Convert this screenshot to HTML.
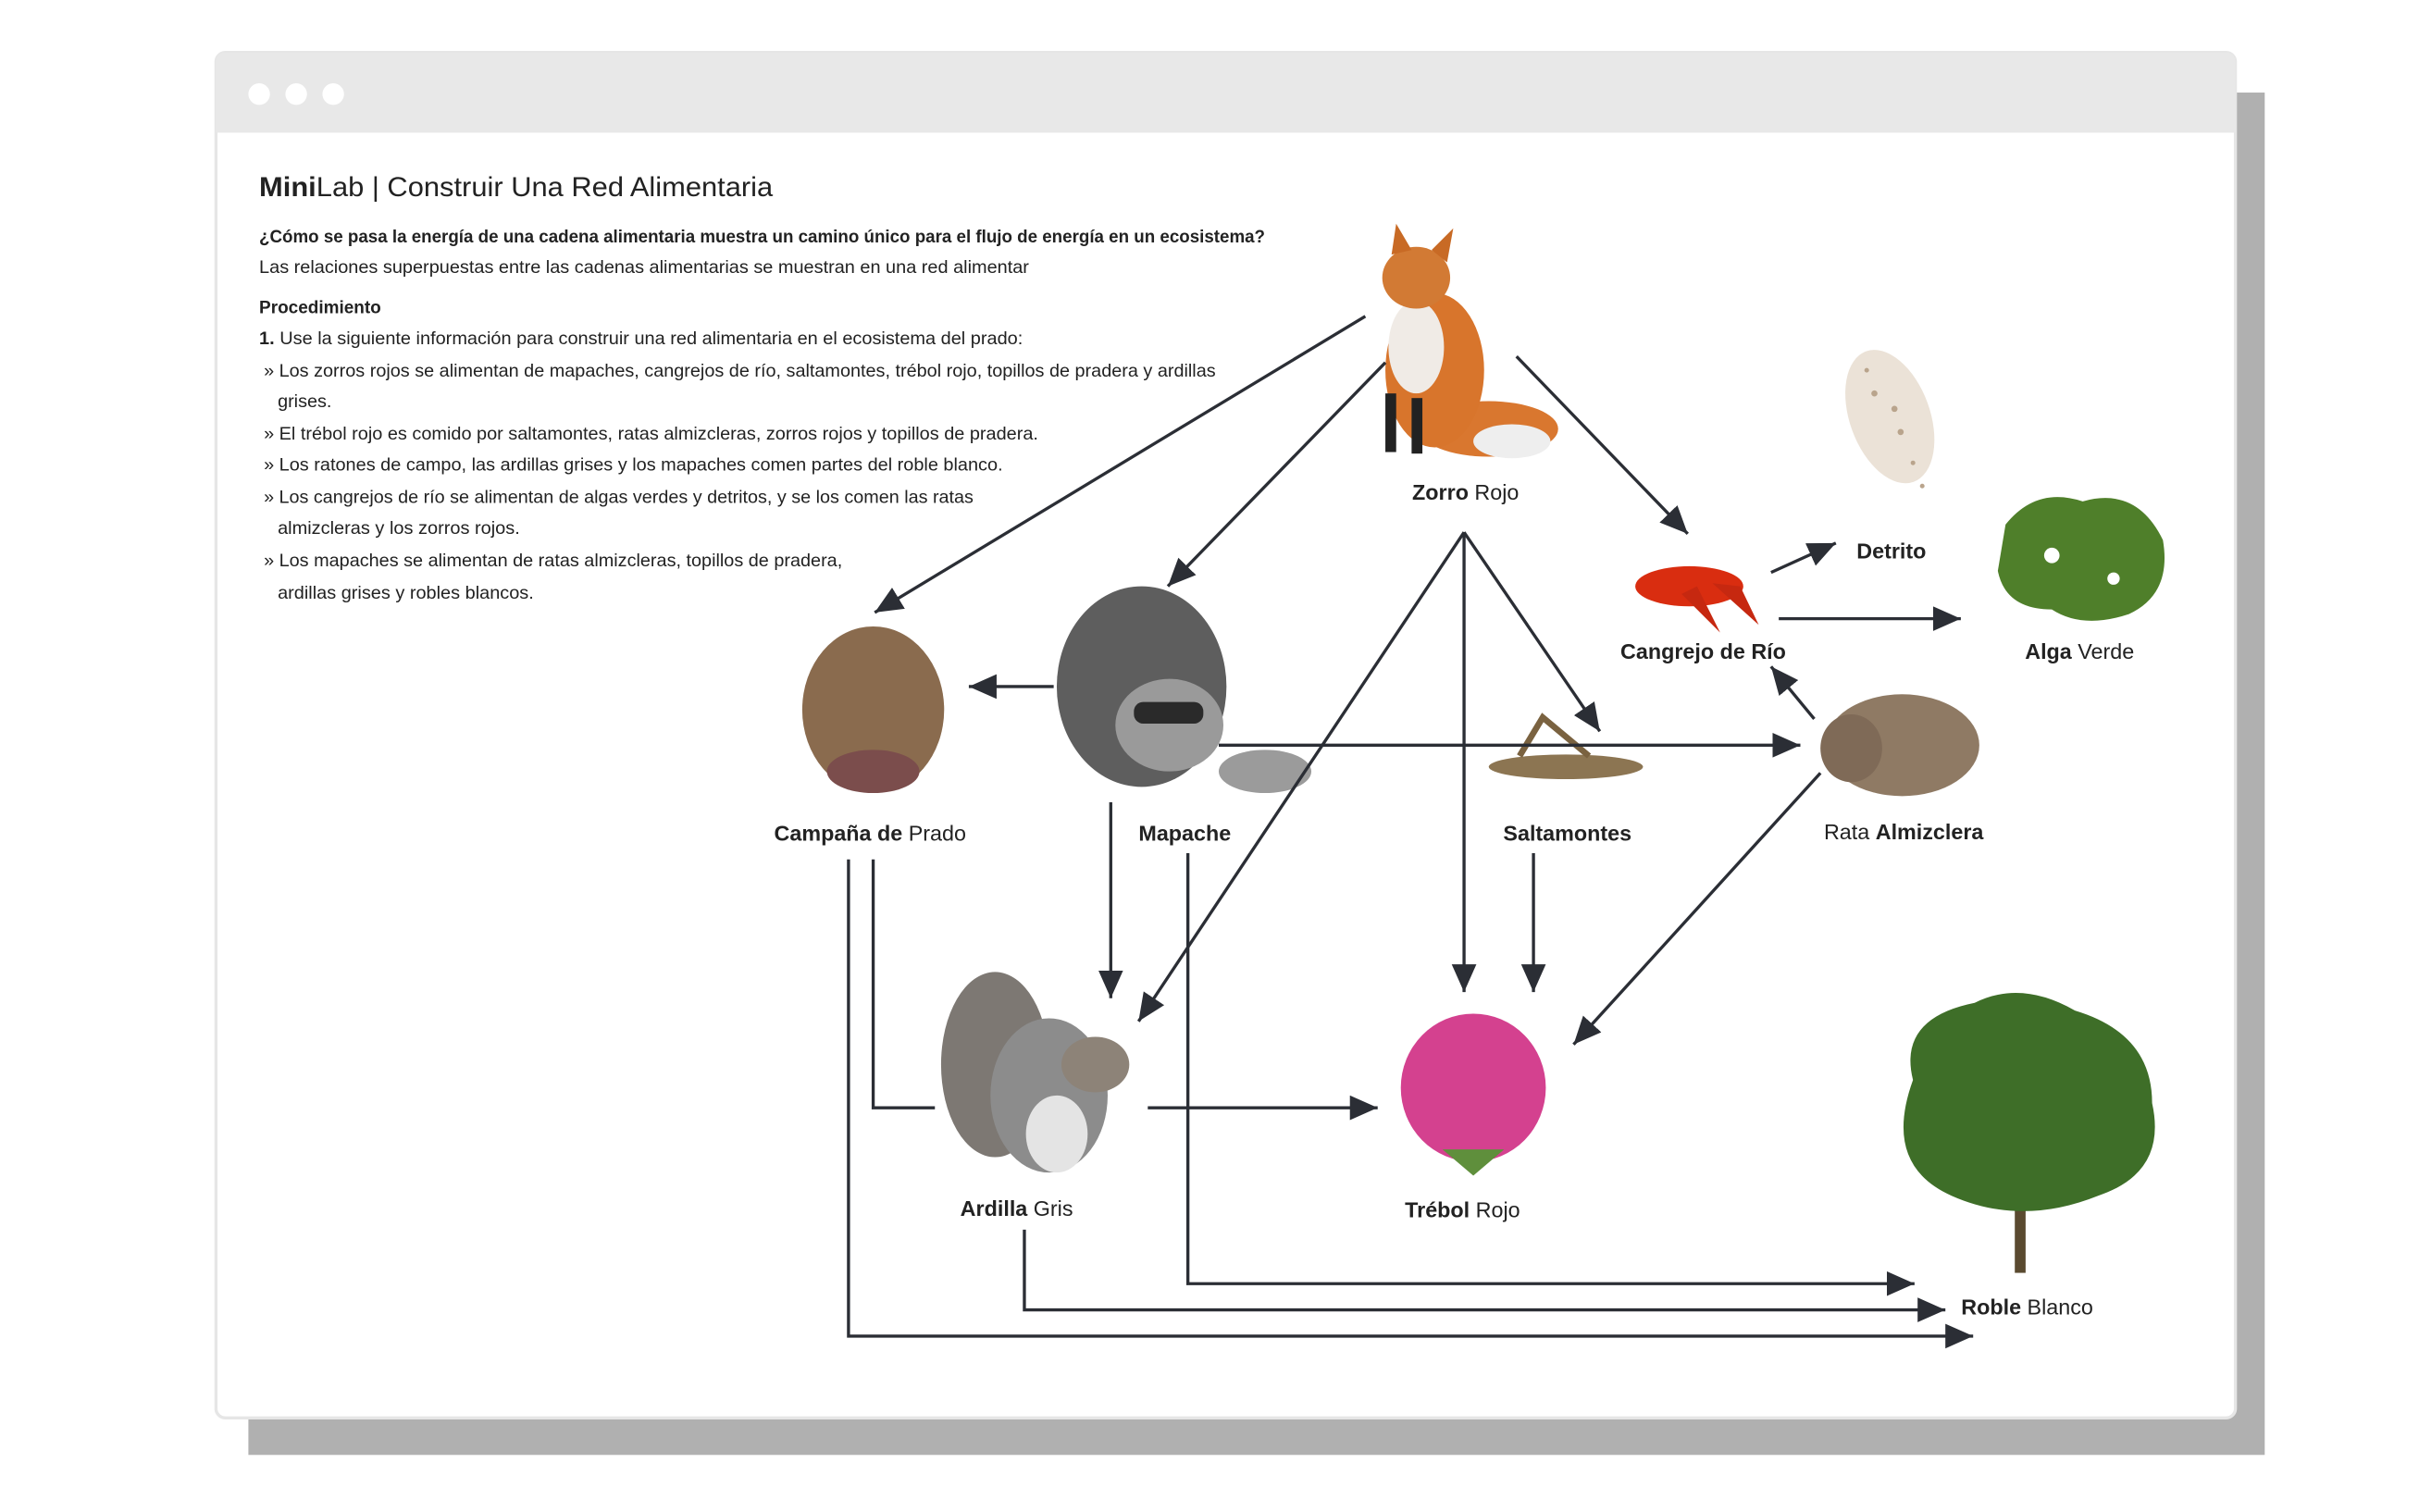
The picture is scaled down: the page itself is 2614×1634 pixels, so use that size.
<!DOCTYPE html>
<html><head><meta charset="utf-8"><style>
html,body{margin:0;padding:0;background:#fff;width:2614px;height:1634px;overflow:hidden}
svg{display:block}
text{font-family:"Liberation Sans",sans-serif;fill:#222}
.b{font-weight:bold}
.lbl{font-size:14px;text-anchor:middle}
.body{font-size:11.5px}
</style></head><body>
<svg width="2614" height="1634" viewBox="0 0 1568 980" preserveAspectRatio="none">
<defs>
<marker id="ah" markerUnits="userSpaceOnUse" markerWidth="20" markerHeight="18" refX="18" refY="8" orient="auto">
<path d="M0,0 L18,8 L0,16 z" fill="#2b2e35"/></marker>
</defs>
<rect x="161" y="60" width="1307" height="883" fill="#b0b0b0"/>
<rect x="140" y="34" width="1309" height="885" rx="6" fill="#fff" stroke="#e6e6e6" stroke-width="2"/>
<path d="M140,86 V40 a6,6 0 0 1 6,-6 H1443 a6,6 0 0 1 6,6 V86 z" fill="#e8e8e8"/>
<circle cx="168" cy="61" r="7" fill="#fff"/><circle cx="192" cy="61" r="7" fill="#fff"/><circle cx="216" cy="61" r="7" fill="#fff"/>

<text x="168" y="127" font-size="18" textLength="333" lengthAdjust="spacingAndGlyphs"><tspan class="b">Mini</tspan>Lab | Construir Una Red Alimentaria</text>
<text class="body b" x="168" y="157" textLength="652" lengthAdjust="spacingAndGlyphs">¿Cómo se pasa la energía de una cadena alimentaria muestra un camino único para el flujo de energía en un ecosistema?</text>
<text class="body" x="168" y="177" textLength="499" lengthAdjust="spacingAndGlyphs">Las relaciones superpuestas entre las cadenas alimentarias se muestran en una red alimentar</text>
<text class="body b" x="168" y="203" textLength="79" lengthAdjust="spacingAndGlyphs">Procedimiento</text>
<text class="body" x="168" y="223" textLength="495" lengthAdjust="spacingAndGlyphs"><tspan class="b">1.</tspan> Use la siguiente información para construir una red alimentaria en el ecosistema del prado:</text>
<text class="body" x="171" y="244" textLength="617" lengthAdjust="spacingAndGlyphs">» Los zorros rojos se alimentan de mapaches, cangrejos de río, saltamontes, trébol rojo, topillos de pradera y ardillas</text>
<text class="body" x="180" y="264" textLength="35" lengthAdjust="spacingAndGlyphs">grises.</text>
<text class="body" x="171" y="285" textLength="502" lengthAdjust="spacingAndGlyphs">» El trébol rojo es comido por saltamontes, ratas almizcleras, zorros rojos y topillos de pradera.</text>
<text class="body" x="171" y="305" textLength="479" lengthAdjust="spacingAndGlyphs">» Los ratones de campo, las ardillas grises y los mapaches comen partes del roble blanco.</text>
<text class="body" x="171" y="326" textLength="460" lengthAdjust="spacingAndGlyphs">» Los cangrejos de río se alimentan de algas verdes y detritos, y se los comen las ratas</text>
<text class="body" x="180" y="346" textLength="157" lengthAdjust="spacingAndGlyphs">almizcleras y los zorros rojos.</text>
<text class="body" x="171" y="367" textLength="375" lengthAdjust="spacingAndGlyphs">» Los mapaches se alimentan de ratas almizcleras, topillos de pradera,</text>
<text class="body" x="180" y="388" textLength="166" lengthAdjust="spacingAndGlyphs">ardillas grises y robles blancos.</text>

<!-- fox -->
<g>
<ellipse cx="965" cy="278" rx="45" ry="18" fill="#d9772f"/>
<ellipse cx="930" cy="240" rx="32" ry="50" fill="#d8752c"/>
<ellipse cx="918" cy="225" rx="18" ry="30" fill="#f0ebe6"/>
<ellipse cx="918" cy="180" rx="22" ry="20" fill="#d27a34"/>
<path d="M902,165 L905,145 L915,162 z M928,162 L942,148 L938,170 z" fill="#c86a25"/>
<rect x="898" y="255" width="7" height="38" fill="#222"/><rect x="915" y="258" width="7" height="36" fill="#222"/>
<ellipse cx="980" cy="286" rx="25" ry="11" fill="#eee"/>
</g>
<!-- detritus -->
<ellipse cx="1225" cy="270" rx="26" ry="45" fill="#e3d6c6" opacity="0.7" transform="rotate(-20 1225 270)"/>
<g fill="#b9a48c"><circle cx="1215" cy="255" r="2"/><circle cx="1232" cy="280" r="2"/><circle cx="1240" cy="300" r="1.5"/><circle cx="1210" cy="240" r="1.5"/><circle cx="1228" cy="265" r="2"/><circle cx="1246" cy="315" r="1.5"/></g>
<!-- algae -->
<path d="M1300,340 Q1320,315 1350,325 Q1385,315 1402,350 Q1408,385 1380,398 Q1350,408 1330,395 Q1300,395 1295,370 z" fill="#4f7f2a"/>
<circle cx="1330" cy="360" r="5" fill="#fff"/><circle cx="1370" cy="375" r="4" fill="#fff"/>
<!-- crayfish -->
<ellipse cx="1095" cy="380" rx="35" ry="13" fill="#d92d10"/>
<path d="M1110,378 L1140,405 L1128,380 z M1090,385 L1115,410 L1100,380 z" fill="#c62810"/>
<!-- rat -->
<ellipse cx="1233" cy="483" rx="50" ry="33" fill="#8f7a64"/>
<ellipse cx="1200" cy="485" rx="20" ry="22" fill="#7f6a57"/>
<!-- vole -->
<ellipse cx="566" cy="460" rx="46" ry="54" fill="#8a6b4e"/>
<ellipse cx="566" cy="500" rx="30" ry="14" fill="#7b4d4c"/>
<!-- raccoon -->
<ellipse cx="740" cy="445" rx="55" ry="65" fill="#5e5e5e"/>
<ellipse cx="758" cy="470" rx="35" ry="30" fill="#9a9a9a"/>
<rect x="735" y="455" width="45" height="14" rx="6" fill="#2a2a2a"/>
<ellipse cx="820" cy="500" rx="30" ry="14" fill="#9b9b9b"/>
<!-- grasshopper -->
<ellipse cx="1015" cy="497" rx="50" ry="8" fill="#8c7552"/>
<path d="M985,490 L1000,465 L1030,490" stroke="#7a6240" stroke-width="4" fill="none"/>
<!-- squirrel -->
<ellipse cx="645" cy="690" rx="35" ry="60" fill="#7d7873"/>
<ellipse cx="680" cy="710" rx="38" ry="50" fill="#8c8c8c"/>
<ellipse cx="710" cy="690" rx="22" ry="18" fill="#8d8378"/>
<ellipse cx="685" cy="735" rx="20" ry="25" fill="#e4e4e4"/>
<!-- clover -->
<ellipse cx="955" cy="705" rx="47" ry="48" fill="#d4418f"/>
<path d="M935,745 L955,762 L975,745 z" fill="#5f8f3c"/>
<!-- tree -->
<rect x="1306" y="760" width="7" height="65" fill="#5a4a30"/>
<path d="M1240,700 Q1230,660 1280,650 Q1310,635 1345,655 Q1395,670 1395,715 Q1405,760 1360,775 Q1310,795 1265,775 Q1220,755 1240,700 z" fill="#3e6e28"/>

<!-- connectors -->
<g stroke="#2b2e35" stroke-width="2" fill="none" marker-end="url(#ah)">
<line x1="885" y1="205" x2="567" y2="397"/>
<line x1="898" y1="235" x2="757" y2="380"/>
<line x1="983" y1="231" x2="1094" y2="346"/>
<line x1="1148" y1="371" x2="1190" y2="352"/>
<line x1="1153" y1="401" x2="1271" y2="401"/>
<line x1="1176" y1="466" x2="1148" y2="432"/>
<line x1="683" y1="445" x2="628" y2="445"/>
<line x1="790" y1="483" x2="1167" y2="483"/>
<line x1="949" y1="345" x2="1037" y2="474"/>
<line x1="949" y1="345" x2="949" y2="643"/>
<line x1="949" y1="345" x2="738" y2="662"/>
<line x1="720" y1="520" x2="720" y2="647"/>
<line x1="994" y1="553" x2="994" y2="643"/>
<line x1="1180" y1="501" x2="1020" y2="677"/>
<line x1="744" y1="718" x2="893" y2="718"/>
<polyline points="550,557 550,866 1279,866"/>
<polyline points="770,553 770,832 1241,832"/>
<polyline points="664,797 664,849 1261,849"/>
</g>
<polyline points="566,557 566,718 606,718" stroke="#2b2e35" stroke-width="2" fill="none"/>

<!-- labels -->
<text class="lbl" x="950" y="324"><tspan class="b">Zorro</tspan> Rojo</text>
<text class="lbl b" x="1226" y="362">Detrito</text>
<text class="lbl" x="1348" y="427"><tspan class="b">Alga</tspan> Verde</text>
<text class="lbl b" x="1104" y="427">Cangrejo de Río</text>
<text class="lbl" x="1234" y="544">Rata <tspan class="b">Almizclera</tspan></text>
<text class="lbl" x="564" y="545"><tspan class="b">Campaña de</tspan> Prado</text>
<text class="lbl b" x="768" y="545">Mapache</text>
<text class="lbl b" x="1016" y="545">Saltamontes</text>
<text class="lbl" x="659" y="788"><tspan class="b">Ardilla</tspan> Gris</text>
<text class="lbl" x="948" y="789"><tspan class="b">Trébol</tspan> Rojo</text>
<text class="lbl" x="1314" y="852"><tspan class="b">Roble</tspan> Blanco</text>
</svg>
</body></html>
